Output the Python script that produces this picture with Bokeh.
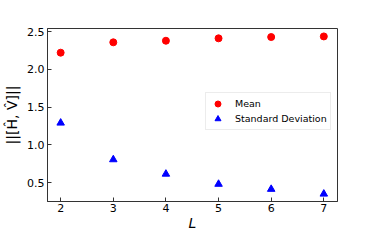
from bokeh.plotting import figure
from bokeh.models import Range1d, Legend, LegendItem, FixedTicker, NumeralTickFormatter
from bokeh.embed import file_html
from bokeh.resources import INLINE

L = [2, 3, 4, 5, 6, 7]
mean_vals = [2.22, 2.357, 2.378, 2.41, 2.427, 2.435]
std_vals = [1.29, 0.805, 0.614, 0.48, 0.413, 0.35]
x_ticks = [2, 3, 4, 5, 6, 7]
y_ticks = [0.5, 1.0, 1.5, 2.0, 2.5]

p = figure(width=358, height=233, output_backend="svg", toolbar_location=None,
           x_range=Range1d(1.75, 7.26), y_range=Range1d(0.25, 2.54),
           min_border_left=47, min_border_right=21, min_border_top=28, min_border_bottom=10)
p.xgrid.visible = False
p.ygrid.visible = False
p.outline_line_color = "#333333"
p.outline_line_width = 1
p.outline_line_alpha = 1

r1 = p.scatter(L, mean_vals, marker="circle", size=7, color="#ff0000")
r2 = p.scatter(L, std_vals, marker="triangle", size=7.5, color="#0000ff")

for ax in (p.xaxis[0], p.yaxis[0]):
    ax.major_tick_in = 4
    ax.major_tick_out = 0
    ax.minor_tick_in = 0
    ax.minor_tick_out = 0
    ax.axis_line_color = "#333333"
    ax.major_tick_line_color = "#333333"
    ax.major_label_text_font = "DejaVu Sans"
    ax.major_label_text_font_size = "11px"
    ax.major_label_text_color = "#000000"
    ax.axis_label_text_font = "DejaVu Sans"
    ax.axis_label_text_color = "#000000"

p.xaxis.ticker = FixedTicker(ticks=x_ticks)
p.yaxis.ticker = FixedTicker(ticks=y_ticks)
p.yaxis.formatter = NumeralTickFormatter(format="0.0")
p.xaxis.major_label_standoff = 2
p.yaxis.major_label_standoff = 3
p.xaxis.axis_label = "L"
p.xaxis.axis_label_text_font_style = "italic"
p.xaxis.axis_label_text_font_size = "14px"
p.xaxis.axis_label_standoff = 0
p.yaxis.axis_label = "||[Ĥ, V\u0302]||"
p.yaxis.axis_label_text_font_style = "normal"
p.yaxis.axis_label_text_font_size = "14px"
p.yaxis.axis_label_standoff = 4

legend = Legend(items=[LegendItem(label="Mean", renderers=[r1]),
                       LegendItem(label="Standard Deviation", renderers=[r2])],
                location=(158, 71))
legend.label_text_font = "DejaVu Sans"
legend.label_text_font_size = "9.5px"
legend.label_text_color = "#000000"
legend.label_height = 15
legend.glyph_height = 15
legend.glyph_width = 17
legend.spacing = -1
legend.padding = 3
legend.margin = 0
legend.label_standoff = 9
legend.border_line_color = "#d9d9d9"
legend.border_line_width = 1
legend.background_fill_alpha = 0.8
p.add_layout(legend)

open("out.html", "w").write(file_html(p, INLINE))
